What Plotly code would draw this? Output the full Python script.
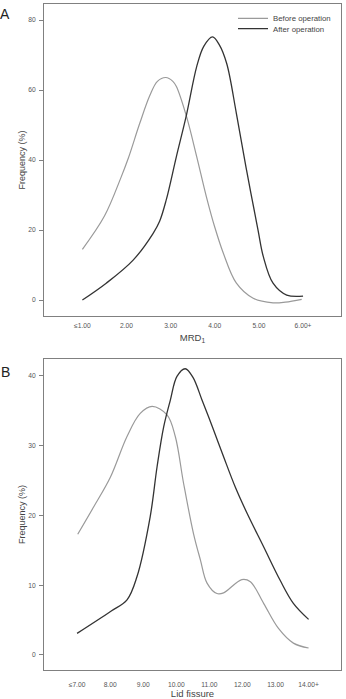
import plotly.graph_objects as go

# ---- Panel A: MRD1 ----
a_tick_vals = [1, 2, 3, 4, 5, 6]
a_tick_text = ["≤1.00", "2.00", "3.00", "4.00", "5.00", "6.00+"]
a_before_x = [1.0, 1.5, 1.88, 2.04, 2.30, 2.53, 2.70, 2.89, 3.05, 3.13, 3.36, 3.59, 3.81,
              4.0, 4.19, 4.49, 4.87, 5.32, 5.6, 5.97]
a_before_y = [14.5, 24.0, 35.2, 40.5, 50.5, 58.5, 62.5, 63.6, 62.5, 61.0, 52.4, 41.0, 29.5,
              20.8, 13.5, 4.8, 0.5, -0.8, -0.6, 0.2]
a_after_x = [1.0, 1.54, 2.15, 2.6, 2.75, 2.90, 3.13, 3.36, 3.59, 3.75, 3.95, 4.1, 4.27, 4.49,
             4.72, 4.98, 5.10, 5.32, 5.63, 6.0]
a_after_y = [0.0, 4.8, 11.4, 19.0, 22.5, 28.6, 41.0, 53.0, 66.7, 72.5, 75.2, 73.0, 67.6, 53.3,
             37.1, 20.0, 12.4, 4.8, 1.4, 1.1]

# ---- Panel B: Lid fissure ----
b_tick_vals = [7, 8, 9, 10, 11, 12, 13, 14]
b_tick_text = ["≤7.00", "8.00", "9.00", "10.00", "11.00", "12.00", "13.00", "14.00+"]
b_before_x = [7.02, 7.50, 8.01, 8.51, 8.91, 9.27, 9.72, 9.97, 10.22, 10.52, 10.73, 10.93, 11.23,
              11.43, 11.98, 12.24, 12.64, 13.09, 13.54, 14.0]
b_before_y = [17.3, 21.2, 25.5, 31.3, 34.6, 35.6, 34.4, 31.3, 24.6, 17.4, 13.6, 10.3, 8.8,
              8.9, 10.8, 10.5, 7.4, 3.8, 1.7, 1.0]
b_after_x = [7.0, 8.0, 8.51, 8.81, 9.21, 9.42, 9.62, 9.82, 10.02, 10.27, 10.5, 10.78, 11.13,
             11.43, 11.78, 12.14, 12.64, 13.14, 13.54, 14.0]
b_after_y = [3.1, 6.2, 7.9, 11.2, 19.8, 27.0, 32.7, 36.5, 39.9, 41.0, 39.8, 36.5, 32.2,
             28.4, 24.1, 20.3, 15.5, 10.7, 7.4, 5.1]

series_names = ["Before operation", "After operation"]
before_color = "#9a9a9a"
after_color = "#333333"
font_family = "Liberation Sans, Arial, sans-serif"
W, H = 346, 699

fig = go.Figure()
fig.add_trace(go.Scatter(x=a_before_x, y=a_before_y, mode="lines", name=series_names[0],
                         line=dict(color=before_color, width=1.2, shape="spline", smoothing=1),
                         xaxis="x", yaxis="y", legend="legend"))
fig.add_trace(go.Scatter(x=a_after_x, y=a_after_y, mode="lines", name=series_names[1],
                         line=dict(color=after_color, width=1.3, shape="spline", smoothing=1),
                         xaxis="x", yaxis="y", legend="legend2"))
fig.add_trace(go.Scatter(x=b_before_x, y=b_before_y, mode="lines", name=series_names[0],
                         line=dict(color=before_color, width=1.2, shape="spline", smoothing=1),
                         xaxis="x2", yaxis="y2", showlegend=False))
fig.add_trace(go.Scatter(x=b_after_x, y=b_after_y, mode="lines", name=series_names[1],
                         line=dict(color=after_color, width=1.3, shape="spline", smoothing=1),
                         xaxis="x2", yaxis="y2", showlegend=False))

xdom = [44 / W, 341 / W]
ydomA = [1 - 316 / H, 1 - 4 / H]
ydomB = [1 - 670 / H, 1 - 359 / H]

axis_common = dict(showline=True, linecolor="#808080", linewidth=1, mirror=True,
                   showgrid=False, zeroline=False,
                   tickfont=dict(size=6.7, color="#555555", family=font_family))

legend_common = dict(bgcolor="rgba(0,0,0,0)", borderwidth=0, xanchor="left", yanchor="middle",
                     font=dict(size=7.8, color="#444444", family=font_family),
                     itemwidth=30, itemclick=False)

fig.update_layout(
    width=W, height=H, margin=dict(l=0, r=0, t=0, b=0),
    paper_bgcolor="white", plot_bgcolor="white",
    font=dict(family=font_family, color="#444444"),
    xaxis=dict(domain=xdom, anchor="y", range=[0.13, 6.86], tickvals=a_tick_vals,
               ticktext=a_tick_text, ticks="", ticklabelstandoff=3,
               title=dict(text="MRD<sub>1</sub>", font=dict(size=9.5, color="#444444"), standoff=6),
               **axis_common),
    yaxis=dict(domain=ydomA, anchor="x", range=[-4.57, 84.6], tickvals=[0, 20, 40, 60, 80],
               ticks="outside", ticklen=4, tickcolor="#808080", ticklabelstandoff=2,
               title=dict(text="Frequency (%)", font=dict(size=9, color="#444444"), standoff=1),
               **axis_common),
    xaxis2=dict(domain=xdom, anchor="y2", range=[6.0, 14.98], tickvals=b_tick_vals,
                ticktext=b_tick_text, ticks="", ticklabelstandoff=8,
                title=dict(text="Lid fissure", font=dict(size=9.5, color="#444444"), standoff=4),
                **axis_common),
    yaxis2=dict(domain=ydomB, anchor="x2", range=[-2.15, 42.4], tickvals=[0, 10, 20, 30, 40],
                ticks="outside", ticklen=4, tickcolor="#808080", ticklabelstandoff=2,
                title=dict(text="Frequency (%)", font=dict(size=9, color="#444444"), standoff=1),
                **axis_common),
    legend=dict(x=233 / W, y=1 - 18.3 / H, **legend_common),
    legend2=dict(x=233 / W, y=1 - 28.7 / H, **legend_common),
    annotations=[
        dict(text="A", x=5 / W, y=1 - 14 / H, xref="paper", yref="paper", showarrow=False,
             xanchor="center", yanchor="middle", font=dict(size=14, color="#222222")),
        dict(text="B", x=5 / W, y=1 - 372 / H, xref="paper", yref="paper", showarrow=False,
             xanchor="center", yanchor="middle", font=dict(size=14, color="#222222")),
    ],
)

fig.write_html("out.html")
